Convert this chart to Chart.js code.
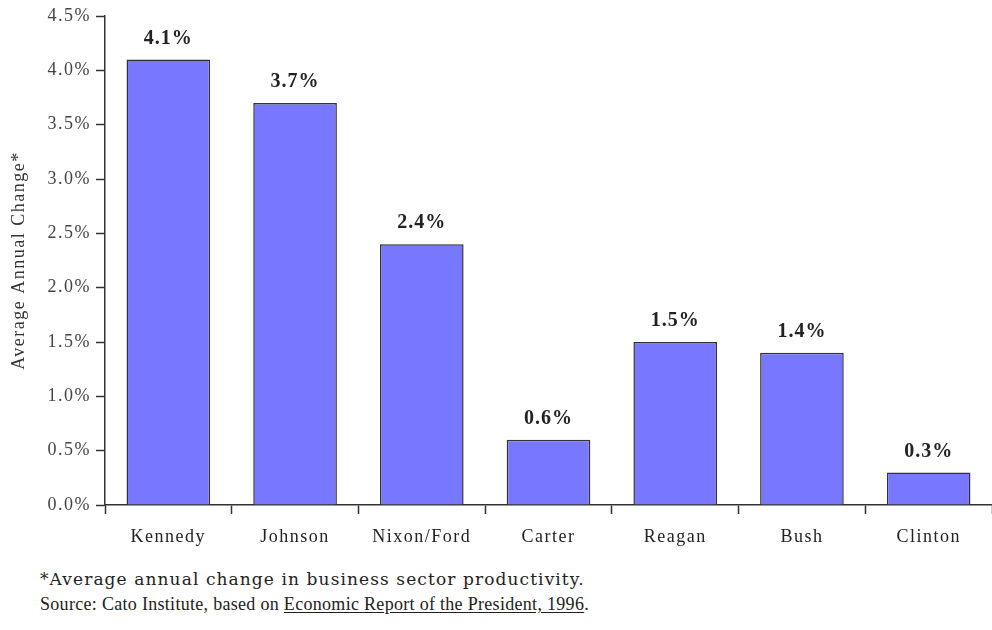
<!DOCTYPE html>
<html>
<head>
<meta charset="utf-8">
<script src="https://cdn.jsdelivr.net/npm/chart.js@4"></script>
<style>
  body { margin: 0; background: #fff; font-family: "Liberation Serif", serif; }
  #wrap { position: relative; width: 992px; height: 560px; }
  .notes { margin: 7px 0 0 40px; font-size: 18px; color: #222; line-height: 25px; }
  .notes .n1 { font-family: "DejaVu Serif", serif; font-size: 17px; letter-spacing: 1.1px; }
  .notes .n2 { letter-spacing: 0.3px; }
  .notes u { text-underline-offset: 2px; }
</style>
</head>
<body>
<div id="wrap"><canvas id="prodChart"></canvas></div>
<div class="notes">
  <div class="n1">*Average annual change in business sector productivity.</div>
  <div class="n2">Source: Cato Institute, based on <u>Economic Report of the President, 1996</u>.</div>
</div>
<script>
const presidents = ['Kennedy', 'Johnson', 'Nixon/Ford', 'Carter', 'Reagan', 'Bush', 'Clinton'];
const productivity = [4.1, 3.7, 2.4, 0.6, 1.5, 1.4, 0.3];
const yTicks = [0, 0.5, 1.0, 1.5, 2.0, 2.5, 3.0, 3.5, 4.0, 4.5];

// wider text spacing for all chart text
const spacing = {
  id: 'spacing',
  beforeDraw(chart) { chart.ctx.letterSpacing = '1.5px'; }
};

// value labels above each bar
const barLabels = {
  id: 'barLabels',
  afterDatasetsDraw(chart) {
    const ctx = chart.ctx;
    const meta = chart.getDatasetMeta(0);
    ctx.save();
    ctx.font = 'bold 20px "Liberation Serif"';
    ctx.letterSpacing = '1px';
    ctx.fillStyle = '#222';
    ctx.textAlign = 'center';
    ctx.textBaseline = 'bottom';
    meta.data.forEach((bar, i) => {
      ctx.fillText(productivity[i].toFixed(1) + '%', bar.x, bar.y - 11);
    });
    ctx.restore();
  }
};

new Chart(document.getElementById('prodChart'), {
  type: 'bar',
  data: {
    labels: presidents,
    datasets: [{
      data: productivity,
      backgroundColor: '#7777ff',
      borderColor: '#333',
      borderWidth: 1.5,
      barPercentage: 0.66,
      categoryPercentage: 1
    }]
  },
  options: {
    responsive: true,
    maintainAspectRatio: false,
    animation: false,
    layout: { padding: { top: 16, right: 0, left: 8, bottom: 0 } },
    plugins: { legend: { display: false }, tooltip: { enabled: false } },
    scales: {
      x: {
        grid: { offset: true, drawOnChartArea: false, color: '#333', tickLength: 9, tickWidth: 1.5 },
        border: { color: '#333', width: 1.5 },
        ticks: { color: '#222', font: { family: 'Liberation Serif', size: 18 }, padding: 12, maxRotation: 0 },
        afterFit(s) { s.height = 55; }
      },
      y: {
        min: 0,
        max: 4.5,
        afterBuildTicks(s) { s.ticks = yTicks.map(v => ({ value: v })); },
        grid: { drawOnChartArea: false, color: '#333', tickLength: 9, tickWidth: 1.5 },
        border: { color: '#333', width: 1.5 },
        ticks: {
          color: '#444',
          font: { family: 'Liberation Serif', size: 18 },
          padding: 5,
          callback: v => v.toFixed(1) + '%'
        },
        title: {
          display: true,
          text: 'Average Annual Change*',
          color: '#333',
          font: { family: 'Liberation Serif', size: 18 },
          padding: { top: 0, bottom: 4 }
        },
        afterFit(s) { s.width = 97; }
      }
    }
  },
  plugins: [spacing, barLabels]
});
</script>
</body>
</html>
